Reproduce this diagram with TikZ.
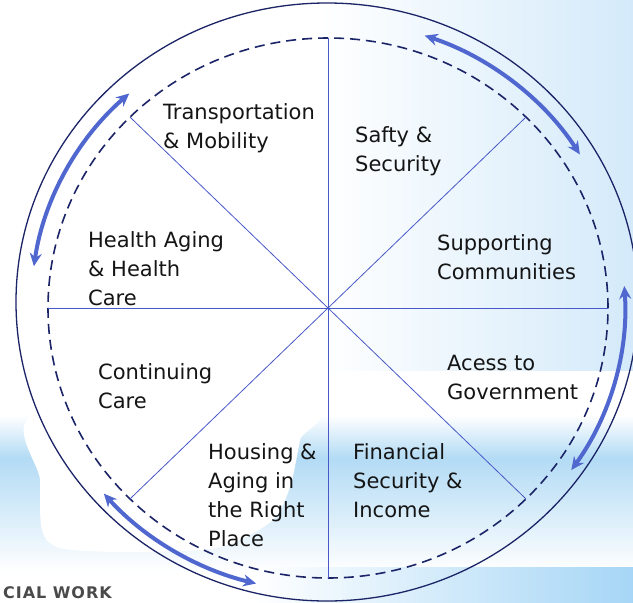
\documentclass[tikz,border=0pt]{standalone}
\usepackage{fontspec}
\setmainfont{DejaVu Sans}
\usetikzlibrary{arrows.meta}
\definecolor{navy}{HTML}{1B2466}
\definecolor{spoke}{HTML}{4858C8}
\definecolor{arr}{HTML}{4F67CF}
\definecolor{bandblue}{HTML}{B3DBF5}
\definecolor{trblue}{HTML}{D4EAFA}
\definecolor{brblue}{HTML}{A6D6F6}
\definecolor{txt}{HTML}{151515}
\definecolor{footgray}{HTML}{4A4A4A}
\begin{document}
\begin{tikzpicture}[x=1pt,y=-1pt,
  lbl/.style={anchor=base west, align=left, inner sep=0pt, text=txt,
    font=\fontsize{21}{29}\selectfont},
  spokeline/.style={draw=spoke, line width=0.8pt},
  dbl/.style={draw=arr, line width=4pt,
    {Stealth[length=13pt,width=12pt]}-{Stealth[length=13pt,width=12pt]}},
]
\useasboundingbox (0,0) rectangle (633,603);
% background
\fill[white] (0,0) rectangle (633,603);
\shade[left color=white, right color=trblue] (320,0) rectangle (633,370);
\shade[top color=white, bottom color=bandblue] (0,415) rectangle (633,458);
\shade[top color=bandblue, bottom color=white] (0,458) rectangle (633,572);
\fill[white] plot[smooth cycle, tension=0.5] coordinates {(40,412) (305,412) (300,440) (290,487) (273,520) (233,543) (200,550) (120,552) (60,548) (42,530) (40,480)};
\shade[left color=white, right color=brblue] (254,567) rectangle (633,603);

% circles
\coordinate (O) at (328,308);
\coordinate (C) at (327,302);
\coordinate (A) at (328,306);
\draw[navy, line width=1.3pt] (C) ellipse [x radius=311pt, y radius=299pt];
\draw[navy, line width=1.6pt, dash pattern=on 10pt off 6pt] (O) ellipse [x radius=280pt, y radius=270pt];

% spokes
\foreach \a in {0,45,...,315}{
  \path (O) ++(\a:280pt and 270pt) coordinate (s\a);
  \draw[spokeline] (O) -- (s\a);
}

% arrows
\path (A) ++(71:297pt and 286pt) coordinate (a1);
\path (A) ++(132:297pt and 286pt) coordinate (a2);
\path (A) ++(4:297pt and 286pt) coordinate (a3);
\path (A) ++(221:297pt and 286pt) coordinate (a4);
\draw[dbl] (a1) arc[start angle=71, end angle=32, x radius=297pt, y radius=286pt];
\draw[dbl] (a2) arc[start angle=132, end angle=172, x radius=297pt, y radius=286pt];
\draw[dbl] (a3) arc[start angle=4, end angle=-35, x radius=297pt, y radius=286pt];
\draw[dbl] (a4) arc[start angle=221, end angle=256, x radius=297pt, y radius=286pt];

% labels (anchor sits 7pt below the last line's baseline)
\node[lbl] (t1) at (163,148) {Transportation\\\& Mobility};
\node[lbl] (t2) at (355,171) {Safty \&\\Security};
\node[lbl] (t3) at (88,305) {Health Aging\\\& Health\\Care};
\node[lbl] (t4) at (437,279) {Supporting\\Communities};
\node[lbl] (t5) at (98,408) {Continuing\\Care};
\node[lbl] (t6) at (447,399) {Acess to\\Government};
\node[lbl] (t7) at (208,546) {Housing \&\\Aging in\\the Right\\Place};
\node[lbl] (t8) at (353,517) {Financial\\Security \&\\Income};

\node[anchor=base west, inner sep=0pt, text=footgray,
  font=\fontsize{16}{16}\selectfont\bfseries\addfontfeatures{LetterSpace=6}] (cw) at (3,598) {CIAL WORK};
\end{tikzpicture}
\end{document}
